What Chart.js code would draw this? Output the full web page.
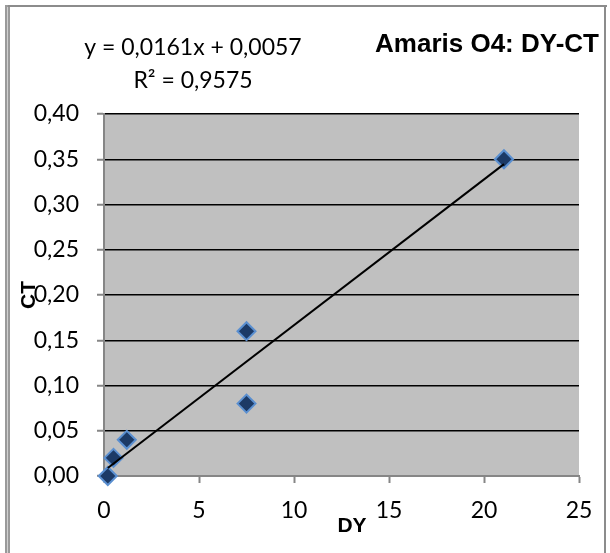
<!DOCTYPE html>
<html>
<head>
<meta charset="utf-8">
<script src="https://cdn.jsdelivr.net/npm/chart.js@4.4.1/dist/chart.umd.min.js"></script>
<style>
html, body { margin: 0; padding: 0; background: #fff; }
</style>
</head>
<body>
<canvas id="chart" width="610" height="553"></canvas>
<script>
// measured values (DY on x, CT on y)
const dyValues = [0.2, 0.5, 1.2, 7.5, 7.5, 21.05];
const ctValues = [0.0, 0.02, 0.04, 0.16, 0.08, 0.35];

// linear trendline end points, as Excel draws it
const trendDy = [0.2, 21.05];
const trendCt = [0.0089, 0.3446];

const chartTitle = 'Amaris O4: DY-CT';
const equationLines = ['y = 0,0161x + 0,0057', 'R² = 0,9575'];
const xAxisTitle = 'DY';
const yAxisTitle = 'CT';

const axisGray = '#868686';

const points = dyValues.map((x, i) => ({ x: x, y: ctValues[i] }));
const trend = trendDy.map((x, i) => ({ x: x, y: trendCt[i] }));

const decorations = {
    id: 'decorations',
    beforeDraw(chart) {
        const ctx = chart.ctx;
        const area = chart.chartArea;
        ctx.save();
        ctx.fillStyle = '#fff';
        ctx.fillRect(0, 0, chart.width, chart.height);
        ctx.fillStyle = '#c0c0c0';
        ctx.fillRect(area.left, area.top, area.right - area.left, area.bottom - area.top);

        // outer frame
        ctx.fillStyle = '#9a9a9a';
        ctx.fillRect(5, 5, 5, chart.height - 5);
        ctx.fillStyle = '#d0d0d0';
        ctx.fillRect(7, 7, 1, chart.height - 7);
        ctx.fillStyle = '#8c8c8c';
        ctx.fillRect(8, 5, 599, 2);
        ctx.fillRect(604, 5, 2, chart.height - 5);
        ctx.restore();
    },
    afterDraw(chart) {
        const ctx = chart.ctx;
        ctx.save();
        ctx.fillStyle = '#000';
        ctx.textBaseline = 'alphabetic';

        ctx.font = 'bold 26px "Liberation Sans", Arial, sans-serif';
        ctx.textAlign = 'right';
        ctx.fillText(chartTitle, 599, 52);

        ctx.font = '23px Lato, sans-serif';
        ctx.textAlign = 'center';
        ctx.fillText(equationLines[0], 193, 55);
        ctx.fillText(equationLines[1], 193, 88);

        ctx.font = 'bold 21px "Liberation Sans", Arial, sans-serif';
        ctx.fillText(xAxisTitle, 352, 532);

        ctx.translate(35, 295);
        ctx.rotate(-Math.PI / 2);
        ctx.fillText(yAxisTitle, 0, 0);
        ctx.restore();
    }
};

new Chart(document.getElementById('chart'), {
    type: 'scatter',
    data: {
        datasets: [{
            label: 'Trend',
            type: 'line',
            data: trend,
            borderColor: '#000',
            borderWidth: 2,
            pointRadius: 0,
            fill: false,
            clip: false,
            order: 0
        }, {
            label: 'CT',
            data: points,
            pointStyle: 'rectRot',
            pointRadius: 9,
            backgroundColor: '#1c3a66',
            borderColor: '#5a8fd0',
            borderWidth: 2,
            clip: false,
            order: 1
        }]
    },
    options: {
        responsive: false,
        animation: false,
        layout: { padding: { top: 114, right: 31, bottom: 0, left: 0 } },
        plugins: {
            legend: { display: false },
            tooltip: { enabled: false }
        },
        scales: {
            x: {
                type: 'linear',
                min: 0,
                max: 25,
                afterFit(scale) { scale.height = 77; },
                ticks: {
                    stepSize: 5,
                    padding: 14,
                    color: '#000',
                    font: { family: 'Lato', size: 23 }
                },
                grid: {
                    drawOnChartArea: false,
                    drawTicks: true,
                    tickLength: 7,
                    tickColor: axisGray,
                    tickWidth: 2
                },
                border: { color: axisGray, width: 2 }
            },
            y: {
                min: 0,
                max: 0.4,
                afterFit(scale) { scale.width = 104; },
                ticks: {
                    stepSize: 0.05,
                    padding: 18,
                    color: '#000',
                    font: { family: 'Lato', size: 23 },
                    callback: v => v.toFixed(2).replace('.', ',')
                },
                grid: {
                    color: c => (c.tick && c.tick.value === 0) ? axisGray : '#000',
                    lineWidth: 1.5,
                    drawTicks: true,
                    tickLength: 7,
                    tickColor: axisGray,
                    tickWidth: 2
                },
                border: { color: axisGray, width: 2 }
            }
        }
    },
    plugins: [decorations]
});
</script>
</body>
</html>
